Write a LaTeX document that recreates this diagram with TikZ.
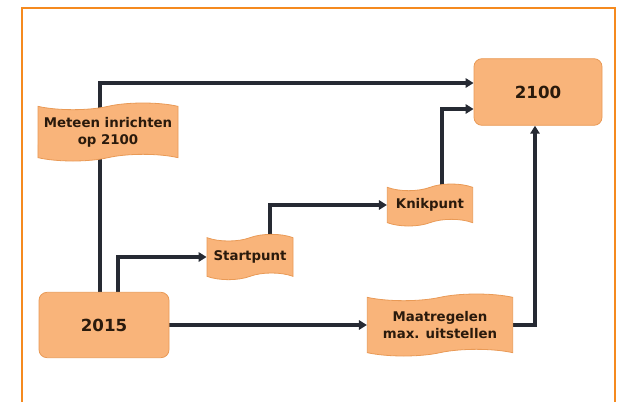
\documentclass[tikz,border=0pt]{standalone}
\usepackage{fontspec}
\setmainfont{DejaVu Sans}
\usetikzlibrary{shapes.symbols,arrows.meta,calc,backgrounds}
\definecolor{frameor}{HTML}{F58A1F}
\definecolor{boxfill}{HTML}{F9B47A}
\definecolor{boxedge}{HTML}{E99A56}
\definecolor{linec}{HTML}{262A33}
\definecolor{txt}{HTML}{2A1A0C}
\begin{document}
\begin{tikzpicture}[x=0.75pt,y=-0.75pt,
  box/.style={fill=boxfill,draw=boxedge,line width=0.6pt,text=txt,font=\bfseries\fontsize{10}{12.5}\selectfont,align=center,inner sep=0pt},
  rbox/.style={box,rounded corners=6pt,font=\bfseries\fontsize{12.5}{14}\selectfont},
  wbox/.style={box,tape,tape bend top=in and out,tape bend bottom=in and out,tape bend height=5pt},
  conn/.style={draw=linec,line width=2.7pt,-{Triangle[length=6pt,width=7pt]}}]
\useasboundingbox (0,0) rectangle (619,401);
\draw[frameor,line width=2.2pt] (22,402) -- (22,8) -- (615,8) -- (615,402);

\node[rbox,minimum width=96pt,minimum height=50pt] (n2100) at (538,92) {2100};
\node[rbox,minimum width=97.5pt,minimum height=49pt] (n2015) at (104,325) {2015};
\node[wbox,minimum width=105pt,minimum height=43.5pt] (nmet) at (108,132) {Meteen inrichten\\op 2100};
\node[wbox,minimum width=64.5pt,minimum height=34pt] (nstart) at (250,257) {Startpunt};
\node[wbox,minimum width=64pt,minimum height=31.5pt] (nknik) at (430,205) {Knikpunt};
\node[wbox,minimum width=109pt,minimum height=46.5pt] (nmaat) at (440,325) {Maatregelen\\max. uitstellen};

\begin{scope}[on background layer]
\draw[conn] ($(n2015.north)+(-4,0)$) |- ($(n2100.west)+(0,-9)$);
\draw[conn] ($(n2015.north)+(14,0)$) |- (nstart.west);
\draw[conn] ($(nstart.north)+(20,0)$) |- (nknik.west);
\draw[conn] ($(nknik.north)+(12,0)$) |- ($(n2100.west)+(0,17)$);
\draw[conn] (n2015.east) -- (nmaat.west);
\draw[conn] (nmaat.east) -| ($(n2100.south)+(-3,0)$);
\end{scope}
\end{tikzpicture}
\end{document}
